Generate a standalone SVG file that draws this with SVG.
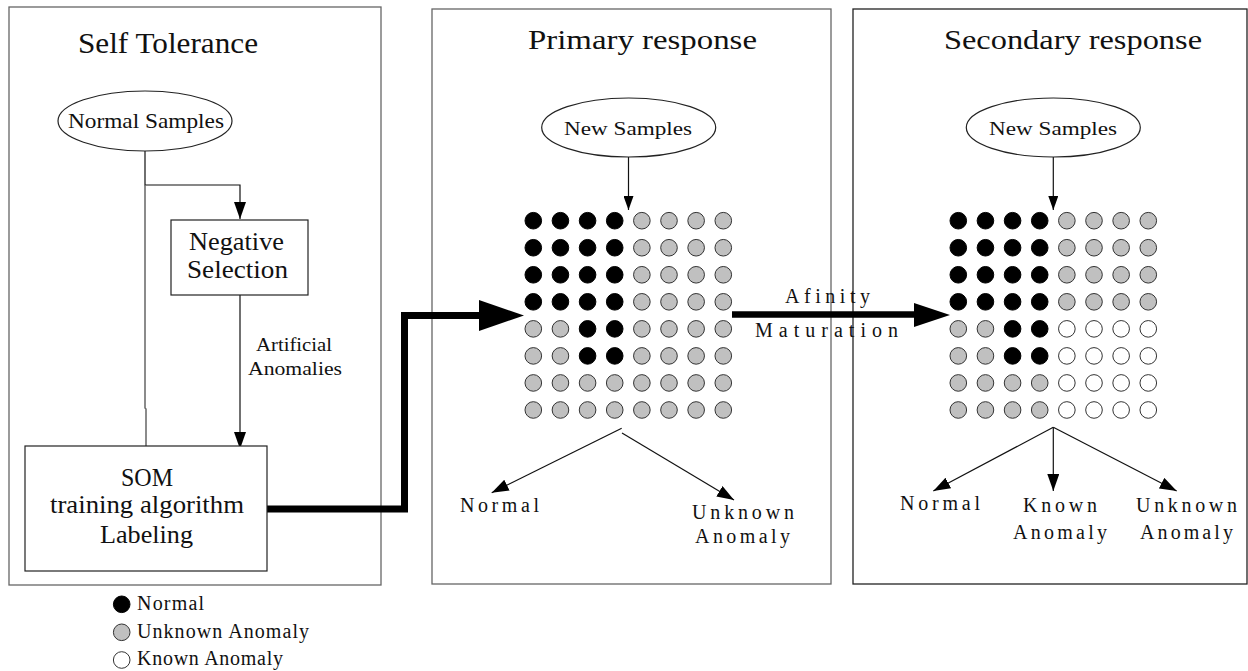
<svg xmlns="http://www.w3.org/2000/svg" width="1248" height="671" viewBox="0 0 1248 671">
<style>
text{font-family:"Liberation Serif","Times New Roman",serif;fill:#111}
.panel{fill:none;stroke:#666;stroke-width:1.3}
.box{fill:#fff;stroke:#222;stroke-width:1.2}
.ln{fill:none;stroke:#111;stroke-width:1.2}
.gl{fill:none;stroke:#666;stroke-width:1.5}
.b{fill:#000;stroke:#000;stroke-width:1}
.g{fill:#c0c0c0;stroke:#333;stroke-width:1}
.w{fill:#fff;stroke:#333;stroke-width:1}
.thick{fill:none;stroke:#000;stroke-width:7}
.t30{font-size:30px}
.t26{font-size:26px}
.t27{font-size:27px}
.t22{font-size:22px}
.t20{font-size:20px}
.t19{font-size:19px}
</style>
<defs>
<marker id="ah" markerUnits="userSpaceOnUse" markerWidth="18" markerHeight="12" refX="17" refY="6" orient="auto"><path d="M0,0 L17,6 L0,12 z" fill="#000"/></marker>
<marker id="as" markerUnits="userSpaceOnUse" markerWidth="15" markerHeight="10" refX="14" refY="5" orient="auto"><path d="M0,0 L14,5 L0,10 z" fill="#000"/></marker>
<g id="cb"><circle r="8.3" class="b"/></g>
<g id="cg"><circle r="8.3" class="g"/></g>
<g id="cw"><circle r="8.3" class="w"/></g>
</defs>

<g id="panel-self">
<rect class="panel" x="9" y="7" width="372" height="578"/>
<text class="t30" x="78" y="53" textLength="180" lengthAdjust="spacingAndGlyphs">Self Tolerance</text>
</g>
<g id="panel-primary">
<rect class="panel" x="432" y="9" width="399" height="575"/>
<text class="t27" x="528" y="49" textLength="229" lengthAdjust="spacingAndGlyphs">Primary response</text>
</g>
<g id="panel-secondary">
<rect class="panel" x="853" y="9" width="394" height="575" style="stroke:#222"/>
<text class="t27" x="944" y="49" textLength="258" lengthAdjust="spacingAndGlyphs">Secondary response</text>
</g>

<g id="connectors">
<path class="ln" d="M145,151 V185 H240 V219" marker-end="url(#ah)"/>
<path class="gl" d="M145,185 V408 L146,409 V446"/>
<path class="ln" d="M240,295 V449" marker-end="url(#ah)"/>
<text class="t19" x="256" y="351" textLength="76" lengthAdjust="spacingAndGlyphs">Artificial</text>
<text class="t19" x="248" y="375" textLength="94" lengthAdjust="spacingAndGlyphs">Anomalies</text>
<path class="thick" d="M267,509 H404.5 V315.5 H481"/>
<polygon points="479,300 524,315.5 479,331" fill="#000"/>
<path class="thick" d="M732,314.5 H916" style="stroke-width:6.5"/>
<polygon points="914,303 950,315 914,327" fill="#000"/>
<text class="t20" x="785" y="303" textLength="85" lengthAdjust="spacing">Afinity</text>
<text class="t20" x="755" y="337" textLength="143" lengthAdjust="spacing">Maturation</text>
<path class="ln" d="M628.5,157 V210" marker-end="url(#as)"/>
<path class="ln" d="M1053.3,157 V210" marker-end="url(#as)"/>
<path class="ln" d="M621.7,428.3 L491.7,492.7" marker-end="url(#ah)"/>
<path class="ln" d="M622,433 L734,500" marker-end="url(#ah)"/>
<path class="ln" d="M1053.3,427.3 L933.3,491" marker-end="url(#ah)"/>
<path class="ln" d="M1053.3,427.3 V491" marker-end="url(#ah)"/>
<path class="ln" d="M1053.3,427.3 L1176.7,491" marker-end="url(#ah)"/>
</g>

<g id="normal-samples">
<ellipse cx="145" cy="121" rx="87" ry="30" class="box"/>
<text class="t22" x="68" y="128" textLength="156" lengthAdjust="spacingAndGlyphs">Normal Samples</text>
</g>
<g id="negative-selection">
<rect class="box" x="171" y="220" width="137" height="75"/>
<text class="t26" x="189" y="250" textLength="95" lengthAdjust="spacingAndGlyphs">Negative</text>
<text class="t26" x="187" y="278" textLength="101" lengthAdjust="spacingAndGlyphs">Selection</text>
</g>
<g id="som">
<rect class="box" x="25" y="446" width="242" height="125"/>
<text class="t26" x="121" y="486" textLength="52" lengthAdjust="spacingAndGlyphs">SOM</text>
<text class="t26" x="50" y="513" textLength="194" lengthAdjust="spacingAndGlyphs">training algorithm</text>
<text class="t26" x="100" y="543" textLength="93" lengthAdjust="spacingAndGlyphs">Labeling</text>
</g>

<g id="new-samples-1">
<ellipse cx="628.7" cy="127.5" rx="87" ry="29.5" class="box"/>
<text class="t19" x="564" y="135" textLength="128" lengthAdjust="spacingAndGlyphs">New Samples</text>
</g>
<g id="new-samples-2">
<ellipse cx="1053.3" cy="127.5" rx="87" ry="29.5" class="box"/>
<text class="t19" x="989" y="135" textLength="128" lengthAdjust="spacingAndGlyphs">New Samples</text>
</g>

<g id="grid-primary">
<g transform="translate(533.3,220.7)">
<use href="#cb" x="0" y="0"/><use href="#cb" x="27.14" y="0"/><use href="#cb" x="54.28" y="0"/><use href="#cb" x="81.42" y="0"/><use href="#cg" x="108.56" y="0"/><use href="#cg" x="135.7" y="0"/><use href="#cg" x="162.84" y="0"/><use href="#cg" x="189.98" y="0"/>
<use href="#cb" x="0" y="27.04"/><use href="#cb" x="27.14" y="27.04"/><use href="#cb" x="54.28" y="27.04"/><use href="#cb" x="81.42" y="27.04"/><use href="#cg" x="108.56" y="27.04"/><use href="#cg" x="135.7" y="27.04"/><use href="#cg" x="162.84" y="27.04"/><use href="#cg" x="189.98" y="27.04"/>
<use href="#cb" x="0" y="54.08"/><use href="#cb" x="27.14" y="54.08"/><use href="#cb" x="54.28" y="54.08"/><use href="#cb" x="81.42" y="54.08"/><use href="#cg" x="108.56" y="54.08"/><use href="#cg" x="135.7" y="54.08"/><use href="#cg" x="162.84" y="54.08"/><use href="#cg" x="189.98" y="54.08"/>
<use href="#cb" x="0" y="81.12"/><use href="#cb" x="27.14" y="81.12"/><use href="#cb" x="54.28" y="81.12"/><use href="#cb" x="81.42" y="81.12"/><use href="#cg" x="108.56" y="81.12"/><use href="#cg" x="135.7" y="81.12"/><use href="#cg" x="162.84" y="81.12"/><use href="#cg" x="189.98" y="81.12"/>
<use href="#cg" x="0" y="108.16"/><use href="#cg" x="27.14" y="108.16"/><use href="#cb" x="54.28" y="108.16"/><use href="#cb" x="81.42" y="108.16"/><use href="#cg" x="108.56" y="108.16"/><use href="#cg" x="135.7" y="108.16"/><use href="#cg" x="162.84" y="108.16"/><use href="#cg" x="189.98" y="108.16"/>
<use href="#cg" x="0" y="135.2"/><use href="#cg" x="27.14" y="135.2"/><use href="#cb" x="54.28" y="135.2"/><use href="#cb" x="81.42" y="135.2"/><use href="#cg" x="108.56" y="135.2"/><use href="#cg" x="135.7" y="135.2"/><use href="#cg" x="162.84" y="135.2"/><use href="#cg" x="189.98" y="135.2"/>
<use href="#cg" x="0" y="162.24"/><use href="#cg" x="27.14" y="162.24"/><use href="#cg" x="54.28" y="162.24"/><use href="#cg" x="81.42" y="162.24"/><use href="#cg" x="108.56" y="162.24"/><use href="#cg" x="135.7" y="162.24"/><use href="#cg" x="162.84" y="162.24"/><use href="#cg" x="189.98" y="162.24"/>
<use href="#cg" x="0" y="189.28"/><use href="#cg" x="27.14" y="189.28"/><use href="#cg" x="54.28" y="189.28"/><use href="#cg" x="81.42" y="189.28"/><use href="#cg" x="108.56" y="189.28"/><use href="#cg" x="135.7" y="189.28"/><use href="#cg" x="162.84" y="189.28"/><use href="#cg" x="189.98" y="189.28"/>
</g>
</g>
<g id="grid-secondary">
<g transform="translate(958.3,220.7)">
<use href="#cb" x="0" y="0"/><use href="#cb" x="27.14" y="0"/><use href="#cb" x="54.28" y="0"/><use href="#cb" x="81.42" y="0"/><use href="#cg" x="108.56" y="0"/><use href="#cg" x="135.7" y="0"/><use href="#cg" x="162.84" y="0"/><use href="#cg" x="189.98" y="0"/>
<use href="#cb" x="0" y="27.04"/><use href="#cb" x="27.14" y="27.04"/><use href="#cb" x="54.28" y="27.04"/><use href="#cb" x="81.42" y="27.04"/><use href="#cg" x="108.56" y="27.04"/><use href="#cg" x="135.7" y="27.04"/><use href="#cg" x="162.84" y="27.04"/><use href="#cg" x="189.98" y="27.04"/>
<use href="#cb" x="0" y="54.08"/><use href="#cb" x="27.14" y="54.08"/><use href="#cb" x="54.28" y="54.08"/><use href="#cb" x="81.42" y="54.08"/><use href="#cg" x="108.56" y="54.08"/><use href="#cg" x="135.7" y="54.08"/><use href="#cg" x="162.84" y="54.08"/><use href="#cg" x="189.98" y="54.08"/>
<use href="#cb" x="0" y="81.12"/><use href="#cb" x="27.14" y="81.12"/><use href="#cb" x="54.28" y="81.12"/><use href="#cb" x="81.42" y="81.12"/><use href="#cg" x="108.56" y="81.12"/><use href="#cg" x="135.7" y="81.12"/><use href="#cg" x="162.84" y="81.12"/><use href="#cg" x="189.98" y="81.12"/>
<use href="#cg" x="0" y="108.16"/><use href="#cg" x="27.14" y="108.16"/><use href="#cb" x="54.28" y="108.16"/><use href="#cb" x="81.42" y="108.16"/><use href="#cw" x="108.56" y="108.16"/><use href="#cw" x="135.7" y="108.16"/><use href="#cw" x="162.84" y="108.16"/><use href="#cw" x="189.98" y="108.16"/>
<use href="#cg" x="0" y="135.2"/><use href="#cg" x="27.14" y="135.2"/><use href="#cb" x="54.28" y="135.2"/><use href="#cb" x="81.42" y="135.2"/><use href="#cw" x="108.56" y="135.2"/><use href="#cw" x="135.7" y="135.2"/><use href="#cw" x="162.84" y="135.2"/><use href="#cw" x="189.98" y="135.2"/>
<use href="#cg" x="0" y="162.24"/><use href="#cg" x="27.14" y="162.24"/><use href="#cg" x="54.28" y="162.24"/><use href="#cg" x="81.42" y="162.24"/><use href="#cw" x="108.56" y="162.24"/><use href="#cw" x="135.7" y="162.24"/><use href="#cw" x="162.84" y="162.24"/><use href="#cw" x="189.98" y="162.24"/>
<use href="#cg" x="0" y="189.28"/><use href="#cg" x="27.14" y="189.28"/><use href="#cg" x="54.28" y="189.28"/><use href="#cg" x="81.42" y="189.28"/><use href="#cw" x="108.56" y="189.28"/><use href="#cw" x="135.7" y="189.28"/><use href="#cw" x="162.84" y="189.28"/><use href="#cw" x="189.98" y="189.28"/>
</g>
</g>

<g id="outcomes-primary">
<text class="t20" x="460" y="512" textLength="79" lengthAdjust="spacing">Normal</text>
<text class="t20" x="692" y="519" textLength="102" lengthAdjust="spacing">Unknown</text>
<text class="t20" x="695" y="543" textLength="95" lengthAdjust="spacing">Anomaly</text>
</g>
<g id="outcomes-secondary">
<text class="t20" x="900" y="510" textLength="80" lengthAdjust="spacing">Normal</text>
<text class="t20" x="1023" y="512" textLength="74" lengthAdjust="spacing">Known</text>
<text class="t20" x="1013" y="539" textLength="94" lengthAdjust="spacing">Anomaly</text>
<text class="t20" x="1136" y="512" textLength="101" lengthAdjust="spacing">Unknown</text>
<text class="t20" x="1140" y="539" textLength="93" lengthAdjust="spacing">Anomaly</text>
</g>

<g id="legend">
<use href="#cb" x="121.7" y="604.3"/>
<text class="t20" x="137" y="610" textLength="67" lengthAdjust="spacing">Normal</text>
<use href="#cg" x="121.7" y="632.3"/>
<text class="t20" x="137" y="638" textLength="172" lengthAdjust="spacing">Unknown Anomaly</text>
<use href="#cw" x="121.7" y="660"/>
<text class="t20" x="137" y="665" textLength="146" lengthAdjust="spacing">Known Anomaly</text>
</g>
</svg>
